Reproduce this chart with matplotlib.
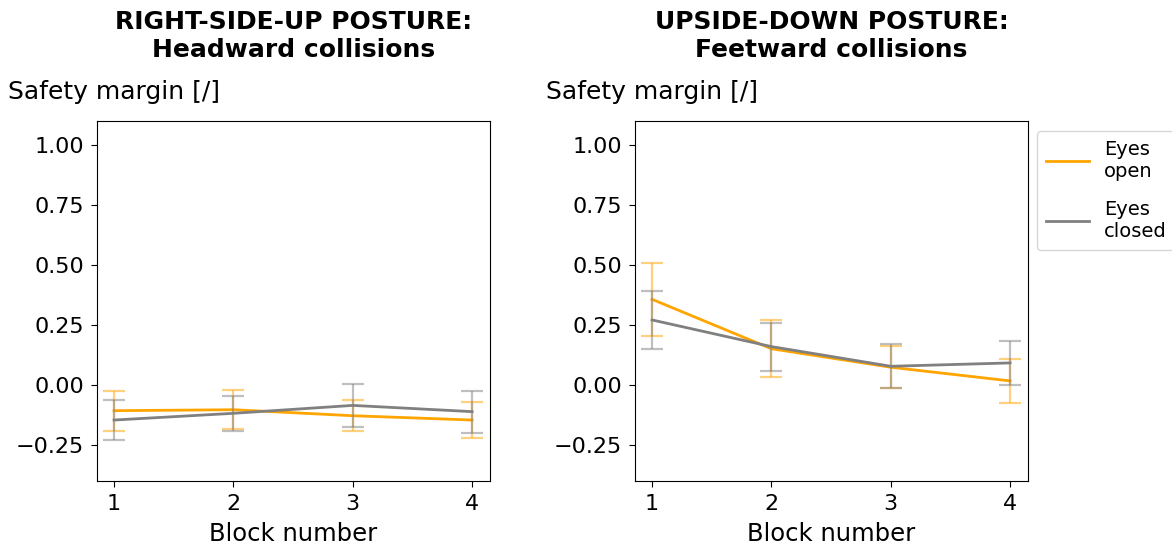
import matplotlib
matplotlib.use("Agg")
import matplotlib.pyplot as plt
import numpy as np

blocks = [1, 2, 3, 4]

# Right-side-up posture (headward collisions)
rsu_open_mean = [-0.107, -0.103, -0.128, -0.146]
rsu_open_err = [0.083, 0.081, 0.065, 0.076]
rsu_closed_mean = [-0.146, -0.118, -0.085, -0.111]
rsu_closed_err = [0.083, 0.072, 0.090, 0.088]

# Upside-down posture (feetward collisions)
usd_open_mean = [0.357, 0.151, 0.074, 0.017]
usd_open_err = [0.152, 0.118, 0.087, 0.092]
usd_closed_mean = [0.271, 0.160, 0.078, 0.092]
usd_closed_err = [0.121, 0.100, 0.092, 0.091]

titles = ["RIGHT-SIDE-UP POSTURE:\nHeadward collisions",
          "UPSIDE-DOWN POSTURE:\nFeetward collisions"]
yticks = [-0.25, 0.00, 0.25, 0.50, 0.75, 1.00]

W, H = 1172, 546
fig = plt.figure(figsize=(W / 100, H / 100), dpi=100)

panels = [
    (97, rsu_open_mean, rsu_open_err, rsu_closed_mean, rsu_closed_err),
    (635, usd_open_mean, usd_open_err, usd_closed_mean, usd_closed_err),
]

for i, (x0, om, oe, cm, ce) in enumerate(panels):
    ax = fig.add_axes([x0 / W, (H - 481) / H, 393 / W, 360 / H])
    for mean, err, color, label in [(om, oe, "orange", "Eyes\nopen"),
                                    (cm, ce, "gray", "Eyes\nclosed")]:
        ax.errorbar(blocks, mean, yerr=err, fmt="none", ecolor=color,
                    alpha=0.5, elinewidth=1.6, capsize=8, capthick=1.6)
        ax.plot(blocks, mean, color=color, lw=2.0, label=label)
    ax.set_xlim(0.857, 4.15)
    ax.set_ylim(-0.4, 1.1)
    ax.set_xticks(blocks)
    ax.set_yticks(yticks)
    ax.set_yticklabels([f"{v:.2f}".replace("-", "\u2212") for v in yticks])
    ax.tick_params(labelsize=16, length=4.5, pad=5)
    ax.set_xlabel("Block number", fontsize=17.5, labelpad=5.5)
    ax.set_title(titles[i], fontsize=18, fontweight="bold", pad=46)
    ax.text(-0.226, 1.061, "Safety margin [/]", transform=ax.transAxes,
            fontsize=18, ha="left", va="baseline")
    if i == 1:
        ax.legend(loc="upper left", bbox_to_anchor=(1.023, 0.972),
                  borderaxespad=0, fontsize=14, handlelength=2.2,
                  handletextpad=0.8, labelspacing=1.0, borderpad=0.45)

fig.savefig("out.png", dpi=100)
